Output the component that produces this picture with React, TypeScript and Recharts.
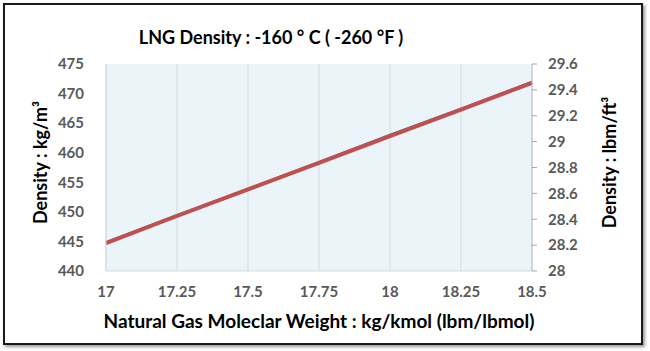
import React from 'react';
import { LineChart, Line, XAxis, YAxis, CartesianGrid, Label } from 'recharts';

// molecular weight (kg/kmol)
const weights = [17, 17.25, 17.5, 17.75, 18, 18.25, 18.5];
// density kg/m3 (left axis)
const densityKg = [444.7, 449.3, 453.8, 458.3, 462.8, 467.3, 471.8];
// density lbm/ft3 (right axis)
const densityLb = [28.22, 28.43, 28.63, 28.84, 29.05, 29.25, 29.46];

const xTicks = [17, 17.25, 17.5, 17.75, 18, 18.25, 18.5];
const leftTicks = [440, 445, 450, 455, 460, 465, 470, 475];
const rightTicks = [28, 28.2, 28.4, 28.6, 28.8, 29, 29.2, 29.4, 29.6];

const data = weights.map((w, i) => ({ w, kg: densityKg[i], lb: densityLb[i] }));

const FONT = 'Lato, "Open Sans", sans-serif';
const tickStyle = { fill: '#595959', fontSize: 15, fontWeight: 700, fontFamily: FONT };

const VLabel = (props: any) => {
  const { viewBox, value, side } = props;
  const cx = side === 'left' ? viewBox.x + 40 : viewBox.x + viewBox.width - 41;
  const cy = viewBox.y + viewBox.height / 2 - 5;
  return (
    <text
      x={cx}
      y={cy}
      transform={`rotate(-90 ${cx} ${cy})`}
      textAnchor="middle"
      dominantBaseline="central"
      fill="#000"
      fontSize={18}
      fontWeight={700}
      fontFamily={FONT}
    >
      {value}
    </text>
  );
};

export default function App() {
  return (
    <div style={{ position: 'absolute', left: 0, top: 0, width: 650, height: 351, background: '#fff' }}>
      <div
        style={{
          position: 'absolute',
          left: 3,
          top: 3,
          width: 636,
          height: 338,
          border: '2.5px solid #1a1a1a',
          boxShadow: '2px 2px 3px #999',
        }}
      />
      <div
        style={{
          position: 'absolute',
          left: 0,
          top: 25,
          width: 542,
          textAlign: 'center',
          fontFamily: FONT,
          fontWeight: 700,
          fontSize: 18,
          color: '#000',
          lineHeight: '24px',
        }}
      >
        LNG Density : -160 ° C ( -260 °F )
      </div>
      <div style={{ position: 'absolute', left: 0, top: 0 }}>
        <LineChart width={650} height={351} data={data} margin={{ top: 64, right: 0, bottom: 23, left: 0 }}>
          <CartesianGrid horizontal={false} stroke="#d9d9d9" fill="#EBF4F8" verticalValues={xTicks} />
          <XAxis
            dataKey="w"
            type="number"
            domain={[17, 18.5]}
            ticks={xTicks}
            height={57}
            tickSize={0}
            tickMargin={15}
            axisLine={{ stroke: '#d9d9d9' }}
            tick={tickStyle}
          >
            <Label
              value="Natural Gas Moleclar Weight : kg/kmol (lbm/lbmol)"
              position="insideBottom"
              offset={0}
              style={{ fill: '#000', fontSize: 19, fontWeight: 700, fontFamily: FONT }}
            />
          </XAxis>
          <YAxis
            yAxisId="left"
            domain={[440, 475]}
            ticks={leftTicks}
            width={106}
            tickLine={false}
            tickMargin={16}
            axisLine={{ stroke: '#d9d9d9' }}
            tick={tickStyle}
          >
            <Label value="Density : kg/m³" content={<VLabel side="left" />} />
          </YAxis>
          <YAxis
            yAxisId="right"
            orientation="right"
            domain={[28, 29.6]}
            ticks={rightTicks}
            width={118}
            tickSize={5}
            tickMargin={11}
            tickLine={{ stroke: '#a6a6a6' }}
            axisLine={{ stroke: '#bfbfbf' }}
            tick={{ ...tickStyle, textAnchor: 'start' }}
          >
            <Label value="Density : lbm/ft³" content={<VLabel side="right" />} />
          </YAxis>
          <Line
            yAxisId="right"
            dataKey="lb"
            stroke="#4F81BD"
            strokeWidth={3}
            dot={false}
            isAnimationActive={false}
          />
          <Line
            yAxisId="left"
            dataKey="kg"
            stroke="#C0504D"
            strokeWidth={4}
            dot={false}
            isAnimationActive={false}
          />
        </LineChart>
      </div>
    </div>
  );
}
